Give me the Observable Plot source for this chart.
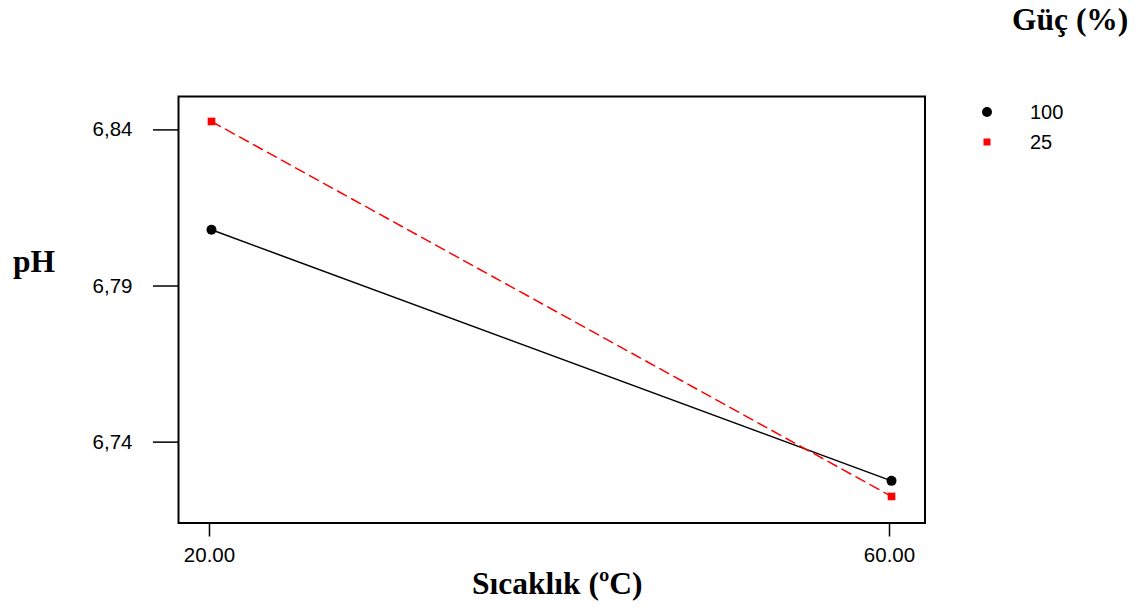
<!DOCTYPE html>
<html><head><meta charset="utf-8">
<script src="https://cdn.jsdelivr.net/npm/d3@7"></script>
<script src="https://cdn.jsdelivr.net/npm/@observablehq/plot@0.6"></script>
<style>
body{margin:0;background:#fff;}
#wrap{position:relative;width:1140px;height:613px;overflow:hidden;}
.t{position:absolute;font-family:"Liberation Serif","Times New Roman",serif;font-weight:bold;color:#000;white-space:nowrap;font-size:31.5px;line-height:31.5px;}
.lg{position:absolute;font-family:"Liberation Sans",Arial,sans-serif;font-size:20px;color:#000;white-space:nowrap;}
</style></head><body><div id="wrap"></div>
<script>
// Data
const temperatures = [20, 60];
const powerLevels = ["100", "25"];
const ph100 = [6.808, 6.7276];
const ph25 = [6.8427, 6.7226];
const yTicks = [6.74, 6.79, 6.84];
const xTicks = [20, 60];
const powerColors = ["black", "red"];
const xTitle = "Sıcaklık (ºC)";
const yTitle = "pH";
const legendTitle = "Güç (%)";

const series = [ph100, ph25];
const data = [];
powerLevels.forEach((p, i) => temperatures.forEach((t, j) => data.push({power: p, temp: t, ph: series[i][j]})));
const d100 = data.filter(d => d.power === powerLevels[0]);
const d25 = data.filter(d => d.power === powerLevels[1]);

const plot = Plot.plot({
  width: 1140, height: 613,
  marginLeft: 178, marginRight: 215.5, marginTop: 96, marginBottom: 90.5,
  style: {fontFamily: '"Liberation Sans", Arial, sans-serif', fontSize: "20.5px", background: "white", color: "black", overflow: "visible"},
  x: {domain: [18.06, 61.97]},
  y: {domain: [6.7141, 6.8507]},
  marks: [
    Plot.axisX({ticks: xTicks, tickSize: 14, tickPadding: 10, dx: -2, strokeWidth: 1.5, tickFormat: d => d.toFixed(2), label: null}),
    Plot.axisY({ticks: yTicks, tickSize: 25, tickPadding: 21, strokeWidth: 1.5, tickFormat: d => d.toFixed(2).replace(".", ","), label: null}),
    Plot.frame({stroke: "black", strokeWidth: 2}),
    Plot.line(d100, {x: "temp", y: "ph", stroke: powerColors[0], strokeWidth: 1.5}),
    Plot.line(d25, {x: "temp", y: "ph", stroke: powerColors[1], strokeWidth: 1.5, strokeDasharray: "10,6"}),
    Plot.dot(d100, {x: "temp", y: "ph", r: 5, fill: powerColors[0]}),
    Plot.dot(d25, {x: "temp", y: "ph", symbol: "square", r: 4.3, fill: powerColors[1]})
  ]
});
const wrap = document.getElementById("wrap");
wrap.appendChild(plot);

function addText(cls, txt, css) {
  const el = document.createElement("div");
  el.className = cls; el.textContent = txt;
  Object.assign(el.style, css);
  wrap.appendChild(el);
  return el;
}
addText("t", yTitle, {left: "13px", top: "245.5px"});
addText("t", legendTitle, {left: "1012px", top: "3.5px"});
const xt = addText("t", xTitle, {left: "0px", top: "567.5px"});
xt.style.left = (557.5 - xt.offsetWidth / 2) + "px";

// legend
const ns = "http://www.w3.org/2000/svg";
const lsvg = document.createElementNS(ns, "svg");
lsvg.setAttribute("width", 40); lsvg.setAttribute("height", 60);
lsvg.style.position = "absolute"; lsvg.style.left = "967px"; lsvg.style.top = "97px";
wrap.appendChild(lsvg);
powerLevels.forEach((p, i) => {
  const cy = 15 + i * 30;
  if (i === 0) {
    const c = document.createElementNS(ns, "circle");
    c.setAttribute("cx", 20); c.setAttribute("cy", cy); c.setAttribute("r", 5); c.setAttribute("fill", powerColors[i]);
    lsvg.appendChild(c);
  } else {
    const r = document.createElementNS(ns, "rect");
    r.setAttribute("x", 16.5); r.setAttribute("y", cy - 3.5); r.setAttribute("width", 7); r.setAttribute("height", 7); r.setAttribute("fill", powerColors[i]);
    lsvg.appendChild(r);
  }
  const el = addText("lg", p, {left: "1030px", top: "0px", lineHeight: "20px"});
  el.style.top = (97 + cy - 10) + "px";
});
</script></body></html>
